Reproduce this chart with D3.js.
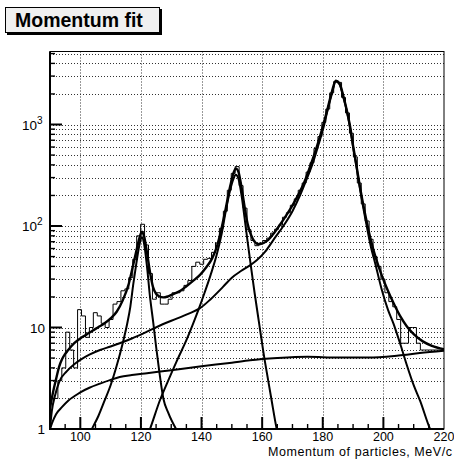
<!DOCTYPE html>
<html>
<head>
<meta charset="utf-8">
<script src="https://cdn.jsdelivr.net/npm/d3@7"></script>
<style>
  body { margin: 0; background: #fff; }
  svg { display: block; background: #fff; }
  text { font-family: "Liberation Sans", Arial, Helvetica, sans-serif; fill: #000; }
</style>
</head>
<body>
<svg id="chart" width="454" height="459"></svg>
<script>
// histogram: 100 bins of 1.3 MeV/c from 90 to 220
const histStart = 90, binWidth = 1.3;
const counts = [
  2, 2, 3, 4, 9, 6, 4, 15, 13, 8,
  10, 14, 13, 11, 10, 12, 17, 18, 23, 24,
  31, 47, 80, 104, 65, 34, 19, 22, 17, 17,
  19, 22, 22, 23, 26, 29, 40, 44, 42, 47,
  48, 55, 68, 95, 140, 225, 330, 385, 250, 150,
  92, 72, 64, 68, 72, 76, 85, 93, 102, 122,
  135, 160, 185, 225, 265, 340, 420, 580, 760, 1050,
  1420, 2050, 2650, 2600, 1850, 1300, 820, 480, 265, 165,
  112, 74, 50, 40, 30, 22, 18, 16, 12, 7,
  7, 10, 10, 7, 6, 6, 6, 6, 6, 6
];

// fitted curves, [momentum, value]
const fitTotal = [
  [90,1.6],[91,2.3],[92,3.1],[93,4.1],[94,4.9],[95,5.5],[96,6.0],[98,7.0],[100,7.8],
  [102,8.5],[104,9.3],[106,10.1],[108,11.0],[110,12.3],[112,14.3],[114,18.5],[116,27],
  [117.5,42],[118.5,57],[119.5,76],[120.3,88],[121,80],[122,55],[123,35],[124,25],
  [125,21.5],[126,20.3],[127.4,19.8],[129,20.3],[131,21.5],[133,23],[135,25.5],[137,28.5],
  [139.5,33],[141.5,39],[143.5,48],[145,62],[146.5,92],[148,150],[149.5,250],[150.5,330],
  [151.3,370],[152.2,340],[153.2,240],[154.2,155],[155.2,105],[156.3,82],[157.5,70],
  [159,66],[160.5,68],[162,73],[164,86],[166,104],[168,128],[170,160],[172,205],[174,275],
  [176,400],[178,600],[180,950],[181.5,1400],[183,2100],[184.3,2700],[185.5,2550],
  [186.8,1900],[188,1350],[189,960],[190,620],[191.2,380],[192.3,240],[194,130],[196,70],
  [197.2,52],[199.4,33],[201.5,23],[203.3,17.5],[205.5,13],[207.7,10.3],[210,8.6],
  [213,7.3],[216,6.6],[220,6.1]
];
const fitPeak1 = [
  [102,0.8],[103.8,1],[106,1.35],[108,1.9],[110,2.7],[112,4.2],[114,7],[115.5,11],
  [116.5,16],[117.5,27],[118.5,43],[119.5,65],[120.3,78],[121,68],[122,40],[123,20],
  [124.1,11],[125,6.5],[126,3.8],[127.4,2.0],[129,1.45],[131.6,1],[133,0.85]
];
const fitPeak2 = [
  [121,0.7],[123,1],[126.3,1.93],[129,3],[132,4.8],[135,7.5],[137,10.5],[139,15],
  [141,22],[143,33],[145,52],[146.5,80],[148,140],[149.5,230],[150.5,290],[151.3,320],
  [152.2,290],[153.2,200],[154.2,120],[155.2,70],[156.3,40],[157.5,22],[159,11],
  [160.5,5.5],[162,3],[163.1,1.93],[164.8,1],[166,0.7]
];
const fitPeak3 = [
  [90,1.0],[90.6,1.5],[91.6,2.1],[93,2.9],[95.5,3.7],[98,4.35],[100,4.8],[103,5.4],
  [106.5,6.0],[110,6.5],[113,7.0],[117,7.8],[122,9.1],[127,10.7],[132,12.3],[136,13.8],
  [139.5,15.5],[143,19],[147,25],[150,31],[153,36],[156,41],[158.2,46],[161,56],[164,75],
  [167,100],[170,140],[172.5,200],[174.7,290],[176.5,400],[178.5,620],[180.3,950],
  [181.5,1350],[183,2000],[184.3,2650],[185.5,2500],[186.8,1850],[188,1330],[189,930],
  [190,600],[191.2,370],[192.3,230],[194,120],[196,60],[197.2,44],[199.4,24],[201.5,15],
  [203.3,11],[205.5,7],[207.7,4.3],[210,2.7],[212.1,1.9],[215.4,1],[217,0.8]
];
const fitBackground = [
  [90,1],[90.7,1.15],[92,1.4],[94,1.65],[96,1.9],[98,2.1],[100,2.3],[103,2.55],
  [106.5,2.8],[110,3.05],[113,3.25],[117,3.4],[122,3.55],[130,3.8],[140,4.15],[150,4.5],
  [156,4.75],[165,5.0],[175,5.15],[185,5.05],[195,5.05],[205,5.3],[212,5.6],[220,5.9]
];

const xMajor = [100, 120, 140, 160, 180, 200, 220];
const yDecades = [1, 10, 100, 1000];
const yLabels = [["1", ""], ["10", ""], ["10", "2"], ["10", "3"]];

const svg = d3.select("#chart");
const L = 50, R = 444, T = 51.5, B = 429;

const x = d3.scaleLinear().domain([90, 220]).range([L, R]);
const y = d3.scaleLog().domain([1, 5240]).range([B, T]);

svg.append("defs").append("clipPath").attr("id", "plot")
  .append("rect").attr("x", L).attr("y", T).attr("width", R - L).attr("height", B - T);

// grid
const yMinor = [];
yDecades.forEach(d => { for (let k = 1; k <= 9; k++) if (d * k <= 5240) yMinor.push(d * k); });
const grid = svg.append("g").attr("stroke", "#000").attr("stroke-width", 1)
  .attr("stroke-dasharray", "1,2").attr("opacity", 0.8);
grid.selectAll("line.h").data(yMinor.filter(v => v > 1)).enter().append("line")
  .attr("x1", L).attr("x2", R)
  .attr("y1", d => Math.round(y(d)) + 0.5).attr("y2", d => Math.round(y(d)) + 0.5);
grid.selectAll("line.v").data(xMajor.filter(v => v < 220)).enter().append("line")
  .attr("y1", T).attr("y2", B)
  .attr("x1", d => Math.round(x(d)) + 0.5).attr("x2", d => Math.round(x(d)) + 0.5);

// histogram outline
const bins = counts.map((c, i) => [histStart + i * binWidth, c]);
bins.push([histStart + counts.length * binWidth, counts[counts.length - 1]]);
const plot = svg.append("g").attr("clip-path", "url(#plot)");
plot.append("path").datum(bins)
  .attr("fill", "none").attr("stroke", "#000").attr("stroke-width", 1)
  .attr("d", d3.line().x(d => x(d[0])).y(d => y(d[1])).curve(d3.curveStepAfter));

// fit curves
const curve = d3.line().x(d => x(d[0])).y(d => y(d[1])).curve(d3.curveMonotoneX);
[fitBackground, fitPeak1, fitPeak2, fitPeak3, fitTotal].forEach((c, i) => {
  plot.append("path").datum(c)
    .attr("fill", "none").attr("stroke", "#000")
    .attr("stroke-width", i === 4 ? 2.4 : 2).attr("stroke-linejoin", "round")
    .attr("d", curve);
});

// frame
svg.append("rect").attr("x", L).attr("y", T).attr("width", R - L).attr("height", B - T)
  .attr("fill", "none").attr("stroke", "#000").attr("stroke-width", 1);
svg.append("line").attr("x1", L).attr("x2", L).attr("y1", T).attr("y2", B + 1)
  .attr("stroke", "#000").attr("stroke-width", 2);
svg.append("line").attr("x1", L - 1).attr("x2", R).attr("y1", B).attr("y2", B)
  .attr("stroke", "#000").attr("stroke-width", 2);

// x ticks
const xTicks = d3.range(95, 220, 5);
svg.append("g").selectAll("line").data(xTicks).enter().append("line")
  .attr("x1", d => x(d)).attr("x2", d => x(d))
  .attr("y1", B).attr("y2", d => B - (d % 20 === 0 ? 12 : 5))
  .attr("stroke", "#000").attr("stroke-width", d => d % 20 === 0 ? 2 : 1.4);
svg.append("g").selectAll("text").data(xMajor).enter().append("text")
  .attr("x", d => x(d)).attr("y", 441).attr("text-anchor", "middle")
  .attr("font-size", 12.5).text(d => d);

// y ticks
svg.append("g").selectAll("line").data(yMinor.filter(v => v > 1)).enter().append("line")
  .attr("x1", L).attr("x2", d => L + (yDecades.includes(d) ? 12 : 5))
  .attr("y1", d => y(d)).attr("y2", d => y(d))
  .attr("stroke", "#000").attr("stroke-width", d => yDecades.includes(d) ? 2 : 1.4);
const yl = svg.append("g").selectAll("text").data(yDecades).enter().append("text")
  .attr("y", d => y(d) + 5).attr("font-size", 13.5).attr("text-anchor", "end")
  .attr("x", (d, i) => yLabels[i][1] ? 42.5 : 45);
yl.append("tspan").text((d, i) => yLabels[i][0]);
yl.append("tspan").attr("dy", -6).attr("font-size", 10).text((d, i) => yLabels[i][1]);

// axis title
svg.append("text").attr("x", 452).attr("y", 456).attr("text-anchor", "end")
  .attr("font-size", 12.5).attr("textLength", 184).attr("lengthAdjust", "spacing")
  .text("Momentum of particles, MeV/c");

// title box
svg.append("rect").attr("x", 7).attr("y", 9).attr("width", 155).attr("height", 26).attr("fill", "#000");
svg.append("rect").attr("x", 5.5).attr("y", 7.5).attr("width", 154).attr("height", 25)
  .attr("fill", "#f0f0f0").attr("stroke", "#000").attr("stroke-width", 1);
svg.append("text").attr("x", 15).attr("y", 26.5).attr("font-size", 19.5)
  .attr("font-weight", "bold").text("Momentum fit");
</script>
</body>
</html>
